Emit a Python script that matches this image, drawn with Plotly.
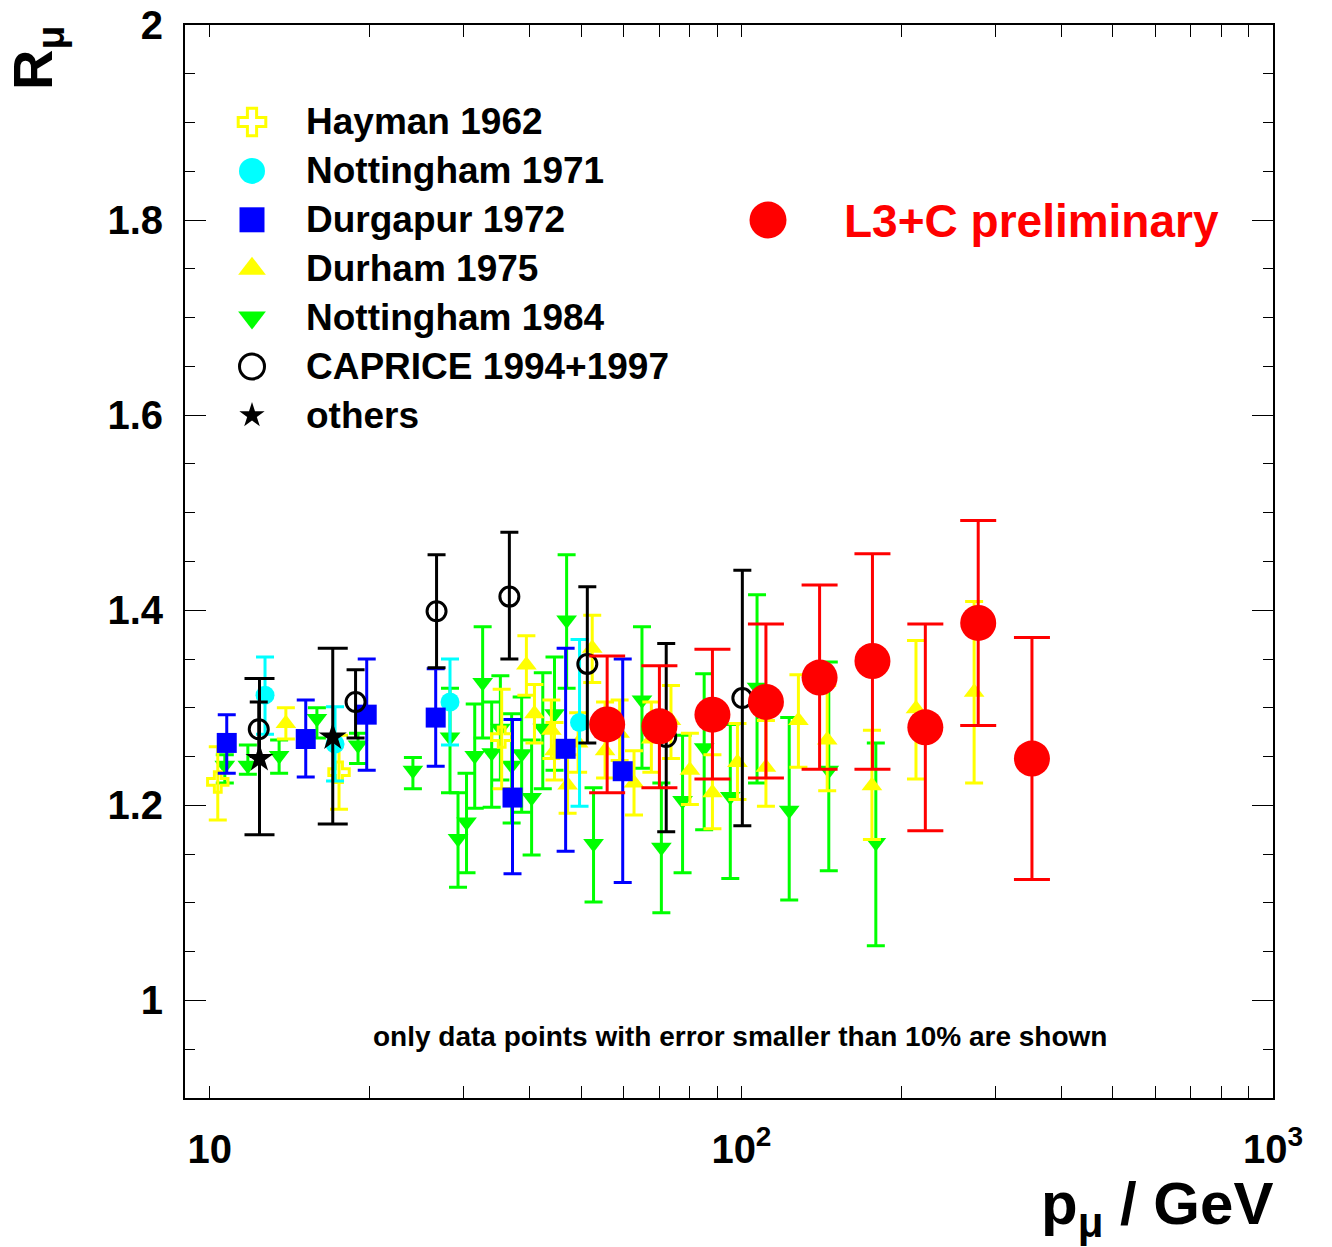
import math
import plotly.graph_objects as go

# ---------------- data ----------------
# Hayman 1962
hayman_p = [10.35, 17.5, 35.4]
hayman_R = [1.224, 1.234, 1.270]
hayman_hi = [1.260, 1.272, 1.319]
hayman_lo = [1.185, 1.196, 1.217]

# Nottingham 1971
nott71_p = [12.7, 17.2, 28.3, 49.6]
nott71_R = [1.313, 1.263, 1.306, 1.285]
nott71_hi = [1.352, 1.301, 1.350, 1.370]
nott71_lo = [1.273, 1.225, 1.262, 1.199]

# Durgapur 1972
durg_p = [10.76, 15.15, 19.73, 26.6, 37.1, 46.7, 59.8]
durg_R = [1.264, 1.268, 1.293, 1.290, 1.208, 1.258, 1.235]
durg_hi = [1.293, 1.308, 1.350, 1.340, 1.288, 1.361, 1.350]
durg_lo = [1.233, 1.229, 1.236, 1.240, 1.130, 1.153, 1.121]

# Durham 1975
durh_p = [13.9, 39.4, 40.8, 43.9, 44.5, 47.1, 49.3, 52.4, 55.4, 59.0, 62.8, 67.7,
          73.7, 80.0, 88.2, 98.3, 111.2, 128.0, 145.0, 176.0, 213.0, 274.0]
durh_R = [1.284, 1.344, 1.294, 1.277, 1.256, 1.221, 1.264, 1.361, 1.256, 1.274, 1.223, 1.268,
          1.287, 1.236, 1.213, 1.244, 1.239, 1.287, 1.267, 1.220, 1.299, 1.316]
durh_hi = [1.300, 1.374, 1.324, 1.308, 1.285, 1.252, 1.295, 1.395, 1.306, 1.308, 1.256, 1.306,
           1.323, 1.274, 1.252, 1.284, 1.287, 1.334, 1.323, 1.277, 1.369, 1.409]
durh_lo = [1.268, 1.313, 1.264, 1.248, 1.226, 1.192, 1.234, 1.326, 1.228, 1.246, 1.190, 1.234,
           1.248, 1.201, 1.176, 1.206, 1.199, 1.239, 1.215, 1.165, 1.227, 1.223]

# Nottingham 1984
nott84_p = [10.67, 11.79, 13.5, 15.9, 19.0, 24.1, 28.3, 29.3, 30.4, 31.5, 32.6, 33.9, 35.2,
            36.96, 38.6, 40.3, 42.3, 44.5, 46.9, 52.7, 65.0, 70.7, 77.5, 85.1, 95.3, 107.0,
            123.0, 146.0, 179.0]
nott84_R = [1.241, 1.241, 1.251, 1.289, 1.262, 1.236, 1.270, 1.166, 1.183, 1.251, 1.326, 1.254,
            1.279, 1.241, 1.253, 1.208, 1.279, 1.294, 1.390, 1.161, 1.308, 1.157, 1.205, 1.259,
            1.209, 1.321, 1.195, 1.236, 1.162]
nott84_hi = [1.252, 1.262, 1.267, 1.300, 1.274, 1.249, 1.320, 1.213, 1.233, 1.304, 1.383, 1.306,
             1.333, 1.294, 1.311, 1.267, 1.336, 1.352, 1.457, 1.218, 1.383, 1.223, 1.272, 1.335,
             1.283, 1.416, 1.290, 1.347, 1.264]
nott84_lo = [1.223, 1.232, 1.233, 1.269, 1.243, 1.217, 1.213, 1.116, 1.131, 1.197, 1.269, 1.198,
             1.226, 1.182, 1.193, 1.149, 1.217, 1.236, 1.320, 1.101, 1.238, 1.090, 1.131, 1.175,
             1.125, 1.223, 1.103, 1.133, 1.056]

# CAPRICE 1994+1997
capr_p = [12.36, 18.8, 26.7, 36.6, 51.3, 72.2, 100.4]
capr_R = [1.278, 1.306, 1.399, 1.414, 1.345, 1.270, 1.310]
capr_hi = [1.306, 1.339, 1.457, 1.480, 1.424, 1.366, 1.441]
capr_lo = [1.250, 1.269, 1.341, 1.350, 1.264, 1.173, 1.179]

# others
oth_p = [12.4, 17.03]
oth_R = [1.248, 1.270]
oth_hi = [1.330, 1.361]
oth_lo = [1.170, 1.181]

# L3+C preliminary
l3c_p = [55.9, 70.1, 88.2, 111.2, 140.3, 176.4, 221.8, 278.9, 352.0]
l3c_R = [1.283, 1.281, 1.293, 1.306, 1.331, 1.348, 1.280, 1.387, 1.248]
l3c_hi = [1.353, 1.343, 1.360, 1.386, 1.426, 1.458, 1.386, 1.492, 1.372]
l3c_lo = [1.213, 1.218, 1.227, 1.228, 1.237, 1.237, 1.174, 1.282, 1.124]

legend_names = ["Hayman 1962", "Nottingham 1971", "Durgapur 1972", "Durham 1975",
                "Nottingham 1984", "CAPRICE 1994+1997", "others"]

y_tickvals = [1.0, 1.2, 1.4, 1.6, 1.8, 2.0]
y_ticktext = ["1", "1.2", "1.4", "1.6", "1.8", "2"]
x_decades = [10, 100, 1000]
x_decade_text = ["10", "10<sup>2</sup>", "10<sup>3</sup>"]

# ---------------- styling ----------------
FONT = "Liberation Sans"
YEL, CYA, BLU, GRN, BLK, RED = "#ffff00", "#00ffff", "#0000ff", "#00ff00", "#000000", "#ff0000"

# plot area in page pixels
PL, PR, PT, PB = 185, 1273, 25, 1098
W, H = 1332, 1247


def px_x(px):
    return (px - PL) / (PR - PL)


def px_y(py):
    return (PB - py) / (PB - PT)


fig = go.Figure()


def add_series(p, r, hi, lo, symbol, color, size, cap, line_w=0, line_color=None):
    fig.add_trace(go.Scatter(
        x=p, y=r, mode="markers", showlegend=False,
        error_y=dict(type="data", symmetric=False,
                     array=[h - v for h, v in zip(hi, r)],
                     arrayminus=[v - l for v, l in zip(r, lo)],
                     color=color, thickness=3, width=cap),
        marker=dict(symbol=symbol, size=size, color=color, opacity=1,
                    line=dict(width=line_w, color=line_color or color)),
    ))


add_series(nott84_p, nott84_R, nott84_hi, nott84_lo, "triangle-down", GRN, 18, 9)
add_series(durh_p, durh_R, durh_hi, durh_lo, "triangle-up", YEL, 18, 9)
add_series(hayman_p, hayman_R, hayman_hi, hayman_lo, "cross-open", YEL, 17, 9, line_w=3)
add_series(nott71_p, nott71_R, nott71_hi, nott71_lo, "circle", CYA, 19, 9)
add_series(durg_p, durg_R, durg_hi, durg_lo, "square", BLU, 20, 9)
add_series(capr_p, capr_R, capr_hi, capr_lo, "circle-open", BLK, 19, 9, line_w=3)
add_series(oth_p, oth_R, oth_hi, oth_lo, "star", BLK, 21, 15)
add_series(l3c_p, l3c_R, l3c_hi, l3c_lo, "circle", RED, 36, 18)

# ---------------- legend keys on an overlay axis in page pixels ----------------
leg_symbols = ["cross-open", "circle", "square", "triangle-up", "triangle-down", "circle-open", "star"]
leg_colors = [YEL, CYA, BLU, YEL, GRN, BLK, BLK]
leg_sizes = [23, 26, 25, 24, 24, 25, 19]
leg_lw = [3, 0, 0, 0, 0, 3, 0]
leg_rows = [122 + 48.9 * i for i in range(len(legend_names))]
fig.add_trace(go.Scatter(
    x=[252] * len(legend_names), y=leg_rows, xaxis="x2", yaxis="y2", mode="markers",
    showlegend=False,
    marker=dict(symbol=leg_symbols, color=leg_colors, size=leg_sizes, opacity=1,
                line=dict(width=leg_lw, color=leg_colors)),
))
fig.add_trace(go.Scatter(
    x=[768], y=[220], xaxis="x2", yaxis="y2", mode="markers", showlegend=False,
    marker=dict(symbol="circle", color=RED, size=37, opacity=1),
))

annotations = []
for name, yy in zip(legend_names, leg_rows):
    annotations.append(dict(text=name, x=px_x(304), y=px_y(yy), xref="paper", yref="paper",
                            xanchor="left", yanchor="middle", showarrow=False,
                            font=dict(family=FONT, size=37, color="black", weight="bold")))
annotations.append(dict(text="L3+C preliminary", x=px_x(842), y=px_y(221), xref="paper", yref="paper",
                        xanchor="left", yanchor="middle", showarrow=False,
                        font=dict(family=FONT, size=46, color=RED, weight="bold")))
annotations.append(dict(text="only data points with error smaller than 10% are shown",
                        x=px_x(740), y=px_y(1036), xref="paper", yref="paper",
                        xanchor="center", yanchor="middle", showarrow=False,
                        font=dict(family=FONT, size=28, color="black", weight="bold")))
annotations.append(dict(text="p<sub>μ</sub> / GeV", x=px_x(1275), y=px_y(1208), xref="paper", yref="paper",
                        xanchor="right", yanchor="middle", showarrow=False,
                        font=dict(family=FONT, size=60, color="black", weight="bold")))
annotations.append(dict(text="R<sub>μ</sub>", x=px_x(36), y=px_y(24), xref="paper", yref="paper",
                        xanchor="center", yanchor="top", showarrow=False, textangle=-90,
                        font=dict(family=FONT, size=56, color="black", weight="bold")))

x_minor = [m * d for d in (10, 100) for m in range(2, 10)]
y_minor = [round(0.9 + 0.05 * k, 2) for k in range(23)]

fig.update_layout(
    width=W, height=H,
    margin=dict(l=PL, r=W - PR, t=PT, b=H - PB, autoexpand=False, pad=0),
    paper_bgcolor="white", plot_bgcolor="white",
    showlegend=False,
    font=dict(family=FONT, size=40, color="black", weight="bold"),
    xaxis=dict(type="log", range=[math.log10(8.98), 3.0],
               tickmode="array", tickvals=x_decades, ticktext=x_decade_text,
               ticks="inside", ticklen=12, tickwidth=1, tickcolor="black",
               showline=True, linewidth=2, linecolor="black", mirror="allticks",
               showgrid=False, zeroline=False, ticklabelstandoff=15,
               tickfont=dict(family=FONT, size=40, color="black", weight="bold"),
               minor=dict(tickmode="array", tickvals=x_minor, ticks="inside", ticklen=12,
                          tickwidth=1, tickcolor="black", showgrid=False)),
    yaxis=dict(range=[0.9, 2.0], tickmode="array", tickvals=y_tickvals, ticktext=y_ticktext,
               ticks="inside", ticklen=21, tickwidth=1, tickcolor="black",
               showline=True, linewidth=2, linecolor="black", mirror="allticks",
               showgrid=False, zeroline=False, ticklabelstandoff=12,
               tickfont=dict(family=FONT, size=40, color="black", weight="bold"),
               minor=dict(tickmode="array", tickvals=y_minor, ticks="inside", ticklen=10,
                          tickwidth=1, tickcolor="black", showgrid=False)),
    xaxis2=dict(overlaying="x", anchor="y2", range=[PL, PR], visible=False, fixedrange=True),
    yaxis2=dict(overlaying="y", anchor="x2", range=[PB, PT], visible=False, fixedrange=True),
    annotations=annotations,
)

fig.write_html("out.html")
